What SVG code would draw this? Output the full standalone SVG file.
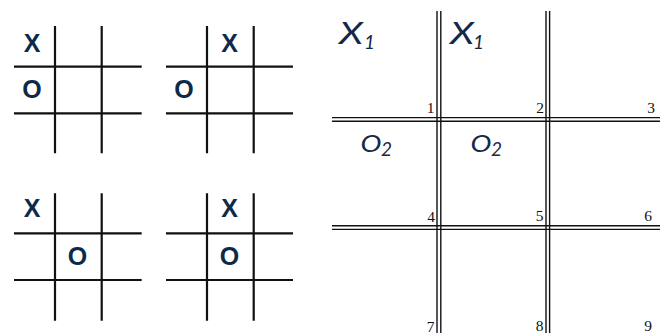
<svg xmlns="http://www.w3.org/2000/svg" width="660" height="333" viewBox="0 0 660 333">
<style>
.g{stroke:#111;stroke-width:2.2;fill:none}
.d{stroke:#111;stroke-width:1.4;fill:none}
.m{font-family:"Liberation Sans",Arial,sans-serif;font-weight:bold;font-size:25px;fill:#0d2a4a;text-anchor:middle}
.v{font-family:"Lato","Open Sans","DejaVu Sans",sans-serif;font-weight:400;font-style:italic;fill:#14294a}
.n{font-family:"Liberation Serif","Times New Roman",serif;font-size:15.5px;fill:#111;text-anchor:end}
</style>
<rect width="660" height="333" fill="#fff"/>
<g id="board1">
<path class="g" d="M55,26V153.3M101.7,26V153.3M14,66.7H141.7M14,113.3H141.7"/>
<text class="m" x="32" y="51.5">X</text>
<text class="m" x="32" y="98">O</text>
</g>
<g id="board2">
<path class="g" d="M207,26V153.3M253.7,26V153.3M166,66.7H293M166,113.3H293"/>
<text class="m" x="229.5" y="51.5">X</text>
<text class="m" x="184" y="98">O</text>
</g>
<g id="board3">
<path class="g" d="M55,193.3V320.7M101.7,193.3V320.7M14,233.3H141.7M14,280H141.7"/>
<text class="m" x="32" y="217.3">X</text>
<text class="m" x="77.5" y="265">O</text>
</g>
<g id="board4">
<path class="g" d="M207,193.3V320.7M253.7,193.3V320.7M166,233.3H293M166,280H293"/>
<text class="m" x="229.5" y="217.3">X</text>
<text class="m" x="229.5" y="265">O</text>
</g>
<g id="bigboard">
<path class="d" d="M437,11V333M440.8,11V333M546,11V333M549.6,11V333M332,117.6H660M332,121.2H660M332,225.8H660M332,229.4H660"/>
<text class="v" x="339" y="44" font-size="30" textLength="24" lengthAdjust="spacingAndGlyphs">X</text>
<text class="v" x="364" y="48.5" font-size="19">1</text>
<text class="v" x="450" y="44" font-size="30" textLength="24" lengthAdjust="spacingAndGlyphs">X</text>
<text class="v" x="473" y="48.5" font-size="19">1</text>
<text class="v" x="360.5" y="152" font-size="24" textLength="21" lengthAdjust="spacingAndGlyphs">O</text>
<text class="v" x="381" y="156" font-size="19">2</text>
<text class="v" x="470.5" y="152" font-size="24" textLength="21" lengthAdjust="spacingAndGlyphs">O</text>
<text class="v" x="491" y="156" font-size="19">2</text>
<text class="n" x="434.5" y="113.3">1</text>
<text class="n" x="544" y="113">2</text>
<text class="n" x="655" y="112.7">3</text>
<text class="n" x="435" y="221.7">4</text>
<text class="n" x="543.5" y="221">5</text>
<text class="n" x="652" y="221">6</text>
<text class="n" x="434.5" y="331.5">7</text>
<text class="n" x="543.5" y="331">8</text>
<text class="n" x="652" y="331">9</text>
</g>
</svg>
